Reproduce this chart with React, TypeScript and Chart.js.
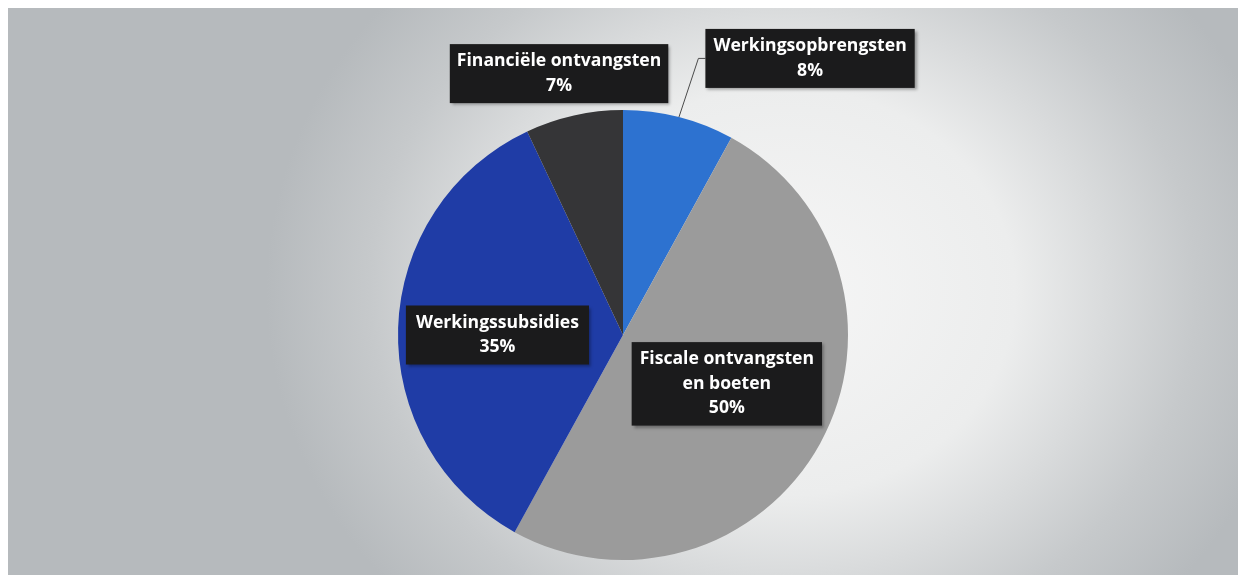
import React, { useEffect, useRef } from "react";
import { Chart, registerables } from "chart.js";

Chart.register(...registerables);

const categories = [
  "Werkingsopbrengsten",
  "Fiscale ontvangsten en boeten",
  "Werkingssubsidies",
  "Financiële ontvangsten",
];
const shares = [8, 50, 35, 7];
const labelLines = [
  ["Werkingsopbrengsten", "8%"],
  ["Fiscale ontvangsten", "en boeten", "50%"],
  ["Werkingssubsidies", "35%"],
  ["Financiële ontvangsten", "7%"],
];
const sliceColors = ["#2d72d0", "#9b9b9b", "#1f3ca6", "#353537"];

// label placement: radius fraction and angular offset (deg) from slice mid-angle
const labelRadius = [1.484, 0.51, 0.558, 1.196];
const labelAngleOffset = [19.67, -3.6, -1.8, -1.15];
const labelPadX = [8, 8, 10, 7];
const leader = [true, false, false, false];

const labelPlugin = {
  id: "boxLabels",
  afterDatasetsDraw(chart: any) {
    const ctx = chart.ctx as CanvasRenderingContext2D;
    const meta = chart.getDatasetMeta(0);
    ctx.save();
    ctx.font = "bold 17.6px 'Open Sans', 'DejaVu Sans', sans-serif";
    ctx.textAlign = "center";
    ctx.textBaseline = "middle";
    meta.data.forEach((arc: any, i: number) => {
      const p = arc.getProps(["x", "y", "startAngle", "endAngle", "outerRadius"], true);
      const mid = (p.startAngle + p.endAngle) / 2;
      const a = mid + (labelAngleOffset[i] * Math.PI) / 180;
      const r = p.outerRadius * labelRadius[i];
      const cx = p.x + Math.cos(a) * r;
      const cy = p.y + Math.sin(a) * r;
      const lines = labelLines[i];
      const lh = 24.5;
      const tw = Math.max(...lines.map((l) => ctx.measureText(l).width));
      const w = tw + labelPadX[i] * 2;
      const h = lines.length * lh + 10;
      const bx = cx - w / 2;
      const by = cy - h / 2;
      if (leader[i]) {
        const ex = p.x + Math.cos(mid) * p.outerRadius;
        const ey = p.y + Math.sin(mid) * p.outerRadius;
        ctx.strokeStyle = "#4a4a4a";
        ctx.lineWidth = 1;
        ctx.beginPath();
        ctx.moveTo(ex, ey);
        ctx.lineTo(bx - 7, cy);
        ctx.lineTo(bx, cy);
        ctx.stroke();
      }
      ctx.shadowColor = "rgba(0,0,0,0.35)";
      ctx.shadowBlur = 3;
      ctx.shadowOffsetX = 2;
      ctx.shadowOffsetY = 2;
      ctx.fillStyle = "#1b1b1c";
      ctx.fillRect(bx, by, w, h);
      ctx.shadowColor = "transparent";
      ctx.fillStyle = "#ffffff";
      lines.forEach((l, k) => {
        ctx.fillText(l, cx, by + 5 + lh / 2 + k * lh);
      });
    });
    ctx.restore();
  },
};

export default function App() {
  const ref = useRef<HTMLCanvasElement | null>(null);
  useEffect(() => {
    if (!ref.current) return;
    const chart = new Chart(ref.current, {
      type: "pie",
      data: {
        labels: categories,
        datasets: [
          {
            data: shares,
            backgroundColor: sliceColors,
            borderWidth: 0,
          },
        ],
      },
      options: {
        animation: false,
        responsive: false,
        maintainAspectRatio: false,
        layout: { padding: { top: 102, bottom: 15, left: 0, right: 0 } },
        plugins: {
          legend: { display: false },
          tooltip: { enabled: false },
        },
      },
      plugins: [labelPlugin],
    });
    return () => chart.destroy();
  }, []);
  return (
    <div
      style={{
        position: "fixed",
        left: 8,
        top: 8,
        width: 1230,
        height: 567,
        background:
          "radial-gradient(ellipse 42% 80% at 63% 50%, #f6f6f6 0%, #eceded 45%, #c6c9cb 80%, #b6babd 100%)",
      }}
    >
      <canvas ref={ref} width={1230} height={567} style={{ display: "block" }} />
    </div>
  );
}
